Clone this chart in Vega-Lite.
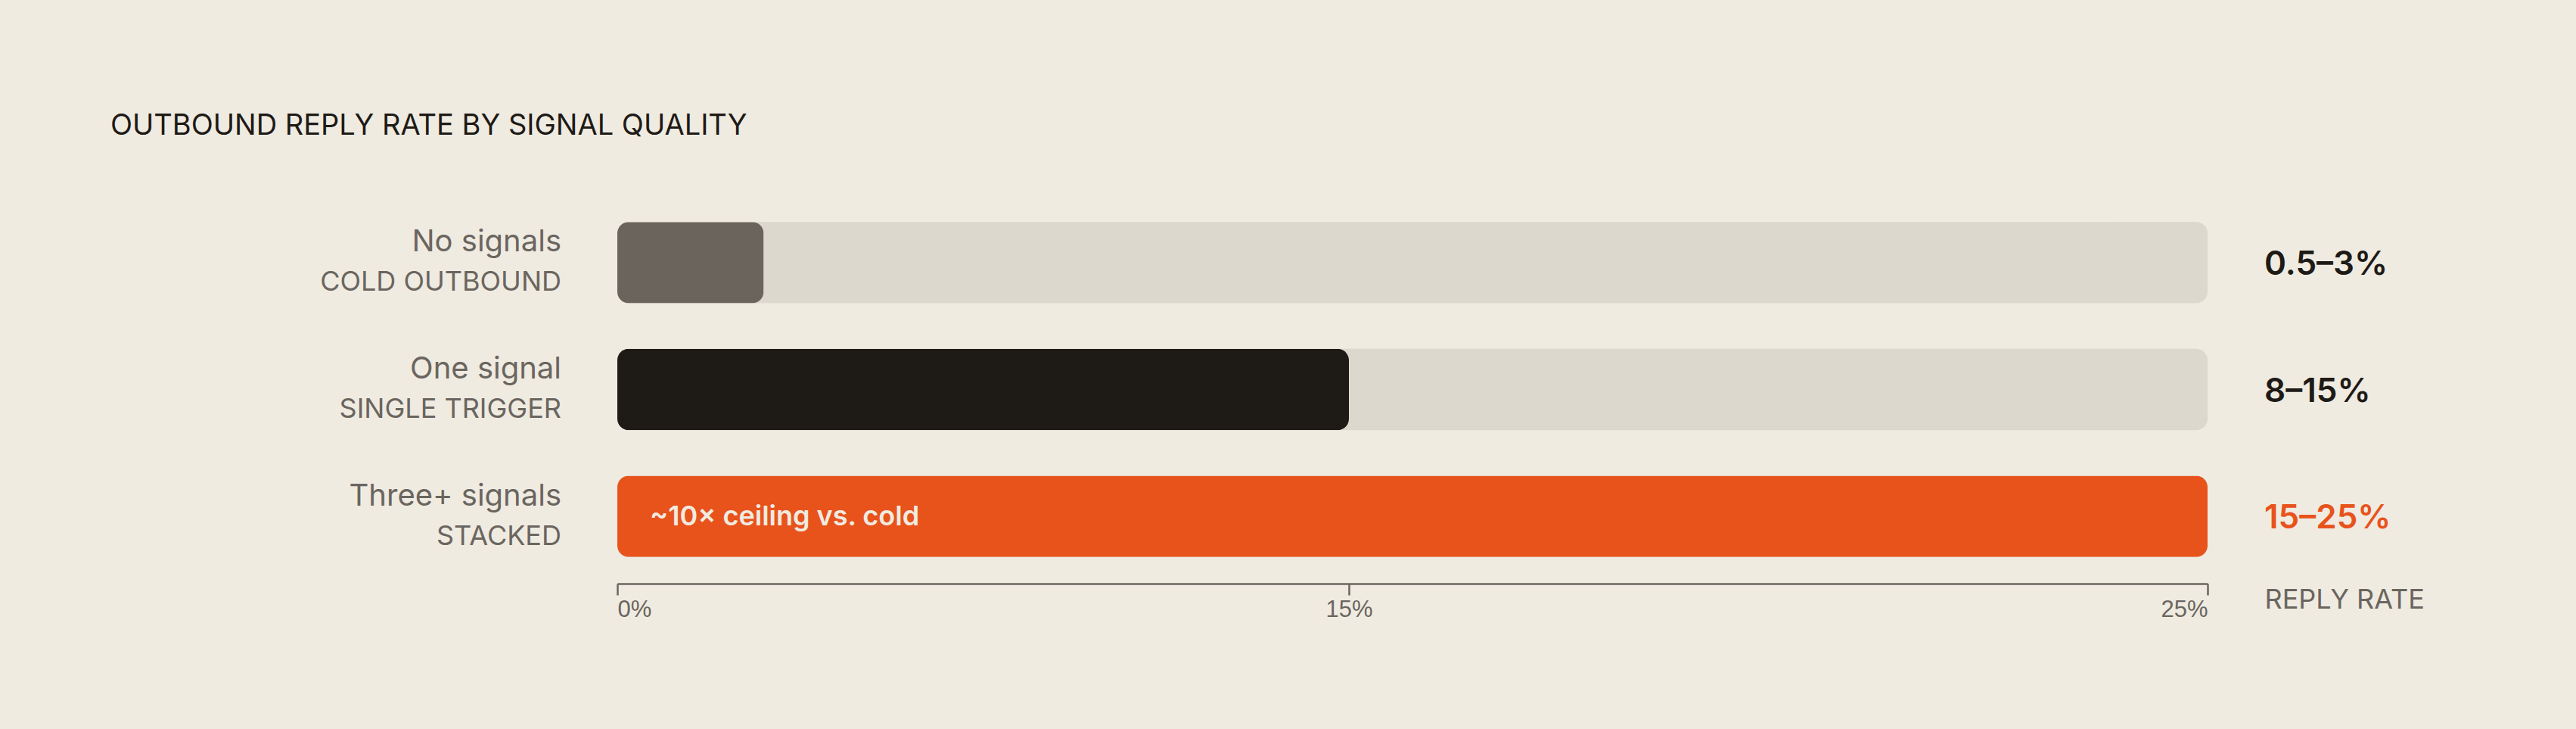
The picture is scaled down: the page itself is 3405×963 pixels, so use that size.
{
  "$schema": "https://vega.github.io/schema/vega-lite/v6.json",
  "description": "Outbound reply rate by signal quality",
  "width": 2102,
  "height": 513,
  "autosize": {"type": "none"},
  "padding": {"left": 816, "top": 258, "right": 487, "bottom": 192},
  "background": "#efebe1",
  "config": {"view": {"stroke": null}, "font": "Inter"},
  "title": {
    "text": "OUTBOUND REPLY RATE BY SIGNAL QUALITY",
    "anchor": "start",
    "frame": "group",
    "dx": -670,
    "offset": 42,
    "baseline": "alphabetic",
    "font": "Inter",
    "fontSize": 38,
    "fontWeight": 400,
    "color": "#1e1a16"
  },
  "data": {
    "values": [
      {"signal": "No signals", "kind": "COLD OUTBOUND", "ceiling": 3, "range": "0.5–3%", "note": ""},
      {"signal": "One signal", "kind": "SINGLE TRIGGER", "ceiling": 15, "range": "8–15%", "note": ""},
      {"signal": "Three+ signals", "kind": "STACKED", "ceiling": 25, "range": "15–25%", "note": "~10× ceiling vs. cold"}
    ]
  },
  "encoding": {
    "y": {
      "field": "signal",
      "type": "nominal",
      "sort": null,
      "scale": {"paddingInner": 0.36, "paddingOuter": 0.21},
      "axis": null
    }
  },
  "layer": [
    {
      "mark": {"type": "bar", "color": "#dcd8cd", "cornerRadius": 15},
      "encoding": {
        "x": {
          "datum": 25,
          "type": "quantitative",
          "scale": {"domain": [0, 15, 25], "range": [0, 967, 2102], "nice": false},
          "axis": {
            "values": [0, 15, 25],
            "labelExpr": "datum.value + '%'",
            "labelFlush": true,
            "labelFont": "Liberation Sans",
            "labelFontSize": 31,
            "labelColor": "#6b655f",
            "labelPadding": 4,
            "tickSize": 15,
            "tickColor": "#6b655f",
            "tickWidth": 2.5,
            "domainColor": "#6b655f",
            "domainWidth": 2.5,
            "grid": false,
            "title": "REPLY RATE",
            "titleX": 2177,
            "titleY": 32,
            "titleAlign": "left",
            "titleAngle": 0,
            "titleBaseline": "alphabetic",
            "titleFont": "Inter",
            "titleFontSize": 36,
            "titleFontWeight": 400,
            "titleColor": "#6b655f"
          }
        }
      }
    },
    {
      "mark": {"type": "bar", "cornerRadius": 15},
      "encoding": {
        "x": {"field": "ceiling", "type": "quantitative"},
        "color": {
          "field": "signal",
          "type": "nominal",
          "scale": {
            "domain": ["No signals", "One signal", "Three+ signals"],
            "range": ["#6a645c", "#1e1b17", "#e8531c"]
          },
          "legend": null
        }
      }
    },
    {
      "mark": {"type": "text", "align": "right", "baseline": "alphabetic", "dx": -74, "dy": -14.5, "fontSize": 40, "color": "#6b655f"},
      "encoding": {
        "x": {"datum": 0, "type": "quantitative"},
        "text": {"field": "signal"}
      }
    },
    {
      "mark": {"type": "text", "align": "right", "baseline": "alphabetic", "dx": -74, "dy": 37.5, "fontSize": 36, "color": "#6b655f"},
      "encoding": {
        "x": {"datum": 0, "type": "quantitative"},
        "text": {"field": "kind"}
      }
    },
    {
      "mark": {"type": "text", "align": "left", "baseline": "alphabetic", "dx": 75, "dy": 16, "fontSize": 44, "fontWeight": 600},
      "encoding": {
        "x": {"datum": 25, "type": "quantitative"},
        "text": {"field": "range"},
        "color": {
          "condition": {"test": "datum.signal === 'Three+ signals'", "value": "#e8531c"},
          "value": "#1e1a16"
        }
      }
    },
    {
      "mark": {"type": "text", "align": "left", "baseline": "alphabetic", "dx": 43, "dy": 12, "fontSize": 36, "fontWeight": 600, "color": "#f0ebe0"},
      "encoding": {
        "x": {"datum": 0, "type": "quantitative"},
        "text": {"field": "note"}
      }
    }
  ]
}
